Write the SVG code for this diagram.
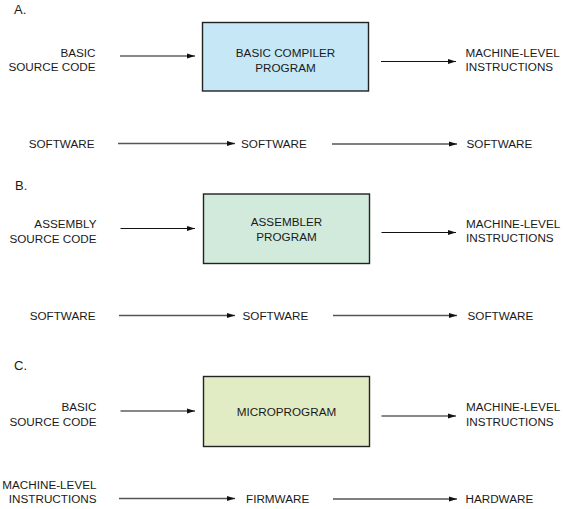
<svg xmlns="http://www.w3.org/2000/svg" width="563" height="509" viewBox="0 0 563 509">
<style>
text{font-family:"Liberation Sans",Arial,sans-serif;font-size:11.7px;fill:#1a1a1a}
.lbl{font-size:13px}
.r{text-anchor:end}
.m{text-anchor:middle}
.box{stroke:#222;stroke-width:1.4}
.c1{stroke:#111;stroke-width:1.1;fill:none}
.c2{stroke:#555;stroke-width:1.6;fill:none}
</style>
<defs>
<marker id="ah" markerWidth="8" markerHeight="6" refX="8" refY="3" orient="auto" markerUnits="userSpaceOnUse">
<path d="M0,0.5 L8,3 L0,5.5 Z" fill="#111"/>
</marker>
</defs>
<rect width="563" height="509" fill="#fff"/>
<text class="lbl" x="14" y="14">A.</text>
<text class="lbl" x="15" y="190">B.</text>
<text class="lbl" x="14" y="370">C.</text>

<g id="nodeA">
<rect class="box" x="202.5" y="22.5" width="166" height="68.5" fill="#c6e7f5"/>
<text class="m" x="285.5" y="57">BASIC COMPILER</text>
<text class="m" x="285.5" y="71.5">PROGRAM</text>
</g>
<g id="inA"><text class="r" x="95.5" y="56.5">BASIC</text><text class="r" x="95.5" y="71">SOURCE CODE</text></g>
<g id="outA"><text x="465.5" y="56.5">MACHINE-LEVEL</text><text x="465.5" y="71">INSTRUCTIONS</text></g>
<g id="swA1"><text class="r" x="94.5" y="147.5">SOFTWARE</text></g>
<g id="swA2"><text x="241" y="148">SOFTWARE</text></g>
<g id="swA3"><text x="466.5" y="147.5">SOFTWARE</text></g>

<g id="nodeB">
<rect class="box" x="203.5" y="194" width="166" height="69.5" fill="#d2eadb"/>
<text class="m" x="286.5" y="226">ASSEMBLER</text>
<text class="m" x="286.5" y="240.5">PROGRAM</text>
</g>
<g id="inB"><text class="r" x="96.5" y="228">ASSEMBLY</text><text class="r" x="96.5" y="242.5">SOURCE CODE</text></g>
<g id="outB"><text x="466" y="227.5">MACHINE-LEVEL</text><text x="466" y="242">INSTRUCTIONS</text></g>
<g id="swB1"><text class="r" x="95.5" y="319.5">SOFTWARE</text></g>
<g id="swB2"><text x="242.5" y="320">SOFTWARE</text></g>
<g id="swB3"><text x="467.5" y="319.5">SOFTWARE</text></g>

<g id="nodeC">
<rect class="box" x="203.5" y="376.5" width="166" height="70" fill="#e1ecc4"/>
<text class="m" x="286.5" y="415.5">MICROPROGRAM</text>
</g>
<g id="inC"><text class="r" x="96.5" y="411">BASIC</text><text class="r" x="96.5" y="425.5">SOURCE CODE</text></g>
<g id="outC"><text x="466" y="411">MACHINE-LEVEL</text><text x="466" y="425.5">INSTRUCTIONS</text></g>
<g id="mlC"><text class="r" x="96.5" y="488.5">MACHINE-LEVEL</text><text class="r" x="96.5" y="503">INSTRUCTIONS</text></g>
<g id="fw"><text x="246" y="503">FIRMWARE</text></g>
<g id="hw"><text x="465.5" y="502.5">HARDWARE</text></g>

<g id="connectors">
<line class="c1" x1="120" y1="56" x2="195" y2="56" marker-end="url(#ah)"/>
<line class="c1" x1="381" y1="61.5" x2="456" y2="61.5" marker-end="url(#ah)"/>
<line class="c2" x1="118" y1="143.5" x2="235" y2="143.5" marker-end="url(#ah)"/>
<line class="c2" x1="332" y1="144" x2="457" y2="144" marker-end="url(#ah)"/>

<line class="c1" x1="120.5" y1="228.5" x2="195" y2="228.5" marker-end="url(#ah)"/>
<line class="c1" x1="381.5" y1="232.5" x2="456" y2="232.5" marker-end="url(#ah)"/>
<line class="c2" x1="119" y1="315.5" x2="235" y2="315.5" marker-end="url(#ah)"/>
<line class="c2" x1="333" y1="315.5" x2="457" y2="315.5" marker-end="url(#ah)"/>

<line class="c1" x1="120.5" y1="411" x2="195" y2="411" marker-end="url(#ah)"/>
<line class="c1" x1="381.5" y1="416" x2="456" y2="416" marker-end="url(#ah)"/>
<line class="c2" x1="119" y1="498.5" x2="235" y2="498.5" marker-end="url(#ah)"/>
<line class="c2" x1="333" y1="499" x2="457" y2="499" marker-end="url(#ah)"/>
</g>
</svg>
